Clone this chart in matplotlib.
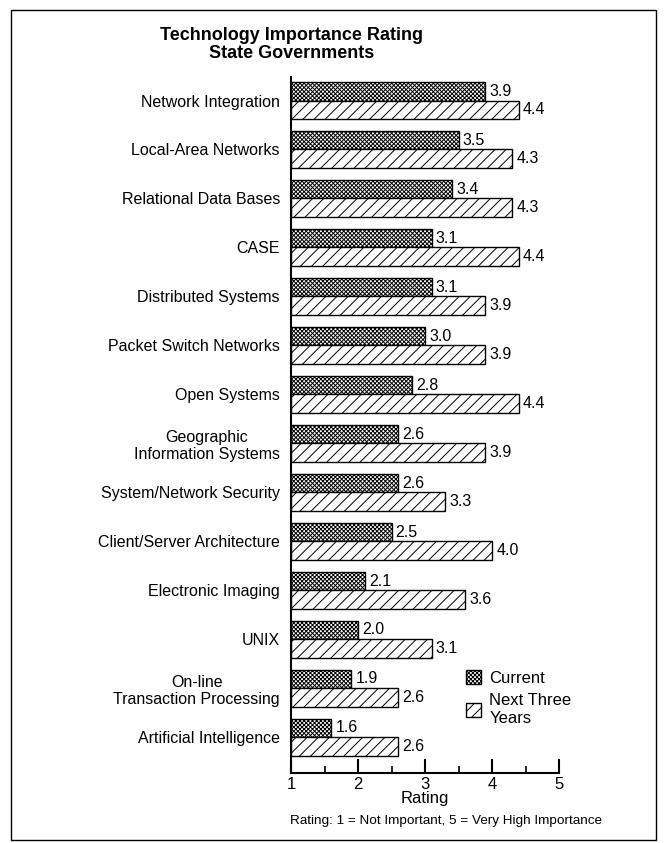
import matplotlib.pyplot as plt
from matplotlib.patches import Patch, Rectangle

plt.rcParams['font.family'] = ['Liberation Sans', 'DejaVu Sans']
plt.rcParams['hatch.linewidth'] = 0.7

# Werte aus der Vorlage
technologies = [
    "Network Integration",
    "Local-Area Networks",
    "Relational Data Bases",
    "CASE",
    "Distributed Systems",
    "Packet Switch Networks",
    "Open Systems",
    "Geographic\nInformation Systems",
    "System/Network Security",
    "Client/Server Architecture",
    "Electronic Imaging",
    "UNIX",
    "On-line\nTransaction Processing",
    "Artificial Intelligence",
]
current = [3.9, 3.5, 3.4, 3.1, 3.1, 3.0, 2.8, 2.6, 2.6, 2.5, 2.1, 2.0, 1.9, 1.6]
next_three = [4.4, 4.3, 4.3, 4.4, 3.9, 3.9, 4.4, 3.9, 3.3, 4.0, 3.6, 3.1, 2.6, 2.6]
x_ticks = [1, 2, 3, 4, 5]

fig = plt.figure(figsize=(6.64, 8.43), dpi=100)
ax = fig.add_axes([291 / 664, 1 - 773 / 843, (559 - 291) / 664, (773 - 77) / 843])

h = 0.38
pos = list(range(len(technologies)))
pos_cur = [p - h / 2 for p in pos]
pos_next = [p + h / 2 for p in pos]

bars_cur = ax.barh(pos_cur, [v - 1 for v in current], left=1, height=h,
                   color="white", edgecolor="black", linewidth=1.0, hatch="xxxxxxxx")
bars_next = ax.barh(pos_next, [v - 1 for v in next_three], left=1, height=h,
                    color="white", edgecolor="black", linewidth=1.0, hatch="///")

ax.bar_label(bars_cur, labels=[f"{v:.1f}" for v in current], padding=3, fontsize=11.5)
ax.bar_label(bars_next, labels=[f"{v:.1f}" for v in next_three], padding=3, fontsize=11.5)

ax.set_xlim(1, 5)
ax.set_ylim(len(technologies) - 1 + h + 0.35, -h - 0.1)

ax.set_yticks(pos)
ax.set_yticklabels(technologies, fontsize=11.5)
ax.tick_params(axis="y", length=0, pad=8)
for lbl in ax.get_yticklabels():
    lbl.set_multialignment("center")

ax.set_xticks(x_ticks)
ax.set_xticklabels([str(t) for t in x_ticks], fontsize=12)
ax.set_xticks([1.5, 2.5, 3.5, 4.5], minor=True)
ax.tick_params(axis="x", which="major", direction="in", length=10, width=1.5, pad=3)
ax.tick_params(axis="x", which="minor", direction="in", length=5, width=1.2)
ax.set_xlabel("Rating", fontsize=12, labelpad=-1)

for s in ["top", "right"]:
    ax.spines[s].set_visible(False)
ax.spines["left"].set_linewidth(1.5)
ax.spines["bottom"].set_linewidth(1.5)

handles = [
    Patch(facecolor="white", edgecolor="black", hatch="xxxxxxxx", linewidth=1.0),
    Patch(facecolor="white", edgecolor="black", hatch="///", linewidth=1.0),
]
fig.legend(handles, ["Current", "Next Three\nYears"], loc="upper left",
           bbox_to_anchor=(466 / 664, 1 - 670 / 843), frameon=False, fontsize=12,
           handlelength=0.9, handleheight=0.9, handletextpad=0.5,
           labelspacing=0.45, borderpad=0, borderaxespad=0)

fig.text(292 / 664, 1 - 27 / 843, "Technology Importance Rating\nState Governments",
         ha="center", va="top", fontsize=13, fontweight="bold", linespacing=1.05)
fig.text(446 / 664, 1 - 821 / 843, "Rating: 1 = Not Important, 5 = Very High Importance",
         ha="center", va="center", fontsize=9.7)

# Rahmen um die Grafik
fig.add_artist(Rectangle((11 / 664, 3 / 843), (656 - 11) / 664, (840 - 10) / 843,
                         transform=fig.transFigure, fill=False, edgecolor="black",
                         linewidth=1.0))

fig.savefig("out.png", dpi=100)
